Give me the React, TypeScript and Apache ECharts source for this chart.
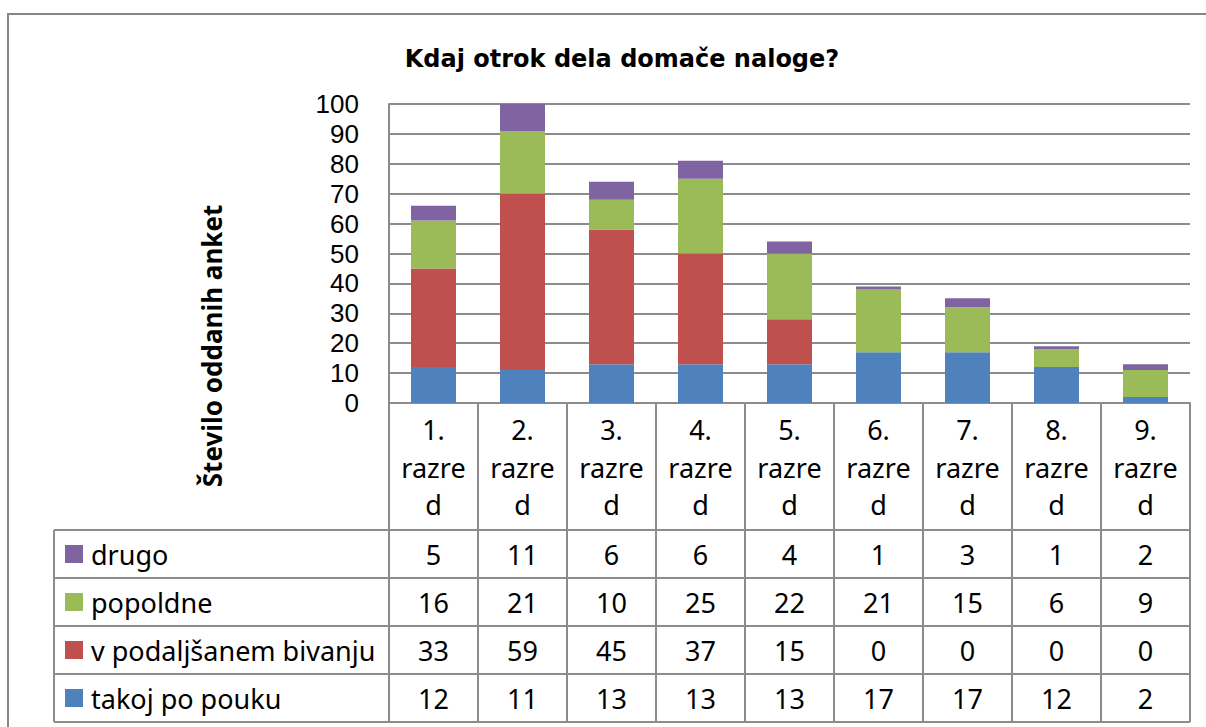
import React, { useEffect, useRef } from "react";
import * as echarts from "echarts";

const categories = ["1. razred", "2. razred", "3. razred", "4. razred", "5. razred", "6. razred", "7. razred", "8. razred", "9. razred"];
const takojPoPouku = [12, 11, 13, 13, 13, 17, 17, 12, 2];
const vPodaljsanemBivanju = [33, 59, 45, 37, 15, 0, 0, 0, 0];
const popoldne = [16, 21, 10, 25, 22, 21, 15, 6, 9];
const drugo = [5, 11, 6, 6, 4, 1, 3, 1, 2];

const seriesNames = ["takoj po pouku", "v podaljšanem bivanju", "popoldne", "drugo"];
const seriesValues = [takojPoPouku, vPodaljsanemBivanju, popoldne, drugo];
const seriesColors = ["#4F81BD", "#C0504D", "#9BBB59", "#8064A2"];

const W = 1206;
const H = 727;
const PLOT_LEFT = 389;
const PLOT_RIGHT = 1190;
const PLOT_TOP = 104;
const AXIS_Y = 403;
const ROW_EDGES = [530, 578, 626, 674, 722];
const TABLE_LEFT = 54;
const LINE = "#8c8c8c";
const FONT = '"Noto Sans", sans-serif';
const FS = 27;

export default function App() {
  const ref = useRef<HTMLDivElement>(null);
  useEffect(() => {
    if (!ref.current) return;
    const chart = echarts.init(ref.current, undefined, { renderer: "svg" });
    const colW = (PLOT_RIGHT - PLOT_LEFT) / categories.length;
    const graphics: any[] = [];
    graphics.push({
      type: "rect",
      shape: { x: 8, y: 14, width: 1230, height: 750 },
      style: { fill: "none", stroke: "#868686", lineWidth: 2 },
    });
    graphics.push({
      type: "text",
      x: 622,
      y: 59,
      style: {
        text: "Kdaj otrok dela domače naloge?",
        font: 'bold 24px "DejaVu Sans", sans-serif',
        fill: "#000",
        textAlign: "center",
        textVerticalAlign: "middle",
      },
    });
    graphics.push({
      type: "text",
      x: 212,
      y: 346,
      rotation: Math.PI / 2,
      style: {
        text: "Število oddanih anket",
        font: 'bold 26px "Noto Sans", sans-serif',
        fill: "#000",
        textAlign: "center",
        textVerticalAlign: "middle",
      },
    });
    // table lines
    const lastY = ROW_EDGES[ROW_EDGES.length - 1];
    for (let k = 0; k <= categories.length; k++) {
      const x = PLOT_LEFT + colW * k;
      graphics.push({
        type: "line",
        shape: { x1: x, y1: AXIS_Y, x2: x, y2: lastY },
        style: { stroke: LINE, lineWidth: 2 },
      });
    }
    graphics.push({
      type: "line",
      shape: { x1: TABLE_LEFT, y1: ROW_EDGES[0], x2: TABLE_LEFT, y2: lastY },
      style: { stroke: LINE, lineWidth: 2 },
    });
    ROW_EDGES.forEach((y) => {
      graphics.push({
        type: "line",
        shape: { x1: TABLE_LEFT, y1: y, x2: PLOT_RIGHT, y2: y },
        style: { stroke: LINE, lineWidth: 2 },
      });
    });
    // rows: top row is last series
    for (let r = 0; r < seriesNames.length; r++) {
      const si = seriesNames.length - 1 - r;
      const cy = (ROW_EDGES[r] + ROW_EDGES[r + 1]) / 2;
      graphics.push({
        type: "rect",
        shape: { x: 65, y: cy - 9, width: 18, height: 18 },
        style: { fill: seriesColors[si] },
      });
      graphics.push({
        type: "text",
        x: 91,
        y: cy,
        style: {
          text: seriesNames[si],
          font: `${FS}px ${FONT}`,
          fill: "#000",
          textAlign: "left",
          textVerticalAlign: "middle",
        },
      });
      seriesValues[si].forEach((v, c) => {
        graphics.push({
          type: "text",
          x: PLOT_LEFT + colW * (c + 0.5),
          y: cy,
          style: {
            text: String(v),
            font: `${FS}px ${FONT}`,
            fill: "#000",
            textAlign: "center",
            textVerticalAlign: "middle",
          },
        });
      });
    }

    chart.setOption({
      animation: false,
      backgroundColor: "#fff",
      grid: { left: PLOT_LEFT, right: W - PLOT_RIGHT, top: PLOT_TOP, bottom: H - AXIS_Y },
      xAxis: {
        type: "category",
        data: categories,
        axisLine: { show: true, lineStyle: { color: LINE, width: 2 } },
        axisTick: { show: false },
        axisLabel: {
          interval: 0,
          margin: 8,
          fontSize: FS,
          lineHeight: 37.5,
          fontFamily: FONT,
          color: "#000",
          formatter: (v: string) => {
            const [a, b] = v.split(" ");
            return a + "\n" + b.slice(0, 5) + "\n" + b.slice(5);
          },
        },
      },
      yAxis: {
        type: "value",
        min: 0,
        max: 100,
        interval: 10,
        axisLine: { show: true, lineStyle: { color: LINE, width: 2 } },
        axisTick: { show: false },
        axisLabel: {
          margin: 30,
          fontSize: 26,
          lineHeight: 27,
          fontFamily: '"Liberation Sans", sans-serif',
          color: "#000",
        },
        splitLine: { lineStyle: { color: LINE, width: 2 } },
      },
      series: seriesNames.map((name, i) => ({
        name,
        type: "bar",
        stack: "total",
        data: seriesValues[i],
        barWidth: 45,
        itemStyle: { color: seriesColors[i] },
      })),
      graphic: graphics,
    });
    return () => chart.dispose();
  }, []);
  return <div ref={ref} style={{ position: "fixed", left: 0, top: 0, width: W, height: H }} />;
}
